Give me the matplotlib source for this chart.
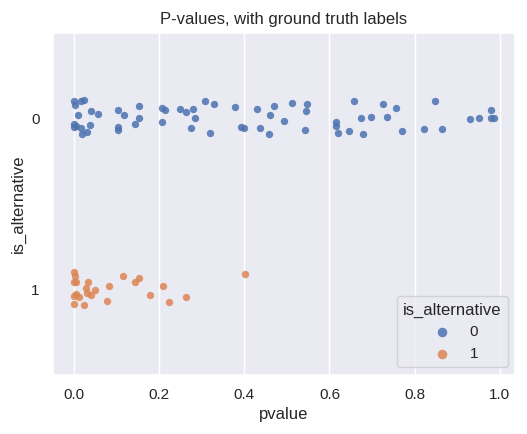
import numpy as np
import matplotlib
matplotlib.use("Agg")
import matplotlib.pyplot as plt
import seaborn as sns

# p-values, with the vertical jitter each point got
p_null = [0.001, 0.002, 0.016, 0.024, 0.041, 0.057, 0.010, 0.000, 0.005, 0.016,
          0.038, 0.030, 0.020, 0.000, 0.105, 0.118, 0.154, 0.154, 0.144, 0.105,
          0.104, 0.207, 0.214, 0.207, 0.249, 0.263, 0.279, 0.285, 0.275, 0.309,
          0.329, 0.320, 0.379, 0.392, 0.400, 0.430, 0.437, 0.460, 0.470, 0.458,
          0.493, 0.512, 0.548, 0.544, 0.542, 0.657, 0.726, 0.756, 0.616, 0.615,
          0.620, 0.646, 0.675, 0.697, 0.734, 0.679, 0.770, 0.847, 0.821, 0.864,
          0.930, 0.951, 0.980, 0.979, 0.987]
jit_null = [-0.097, -0.077, -0.102, -0.106, -0.042, -0.025, -0.017, 0.035, 0.045, 0.058,
            0.042, 0.081, 0.092, 0.052, -0.045, -0.017, -0.068, 0.000, 0.036, 0.054,
            0.068, -0.056, -0.048, 0.023, -0.050, -0.036, -0.054, 0.002, 0.056, -0.100,
            -0.085, 0.088, -0.064, 0.052, 0.058, -0.050, 0.056, -0.019, -0.069, 0.091,
            0.019, -0.088, -0.085, -0.040, 0.068, -0.098, -0.083, -0.056, 0.021, 0.048,
            0.087, 0.075, 0.000, -0.008, -0.004, 0.094, 0.075, -0.102, 0.062, 0.065,
            0.004, -0.002, -0.048, 0.002, 0.002]

p_alt = [0.000, 0.002, 0.000, 0.006, 0.034, 0.028, 0.051, 0.083, 0.116, 0.144,
         0.152, 0.210, 0.178, 0.224, 0.264, 0.403, 0.000, 0.006, 0.013, 0.030,
         0.040, 0.000, 0.023, 0.079]
jit_alt = [-0.097, -0.077, -0.042, -0.042, -0.042, -0.006, 0.008, -0.017, -0.075, -0.040,
           -0.062, -0.019, 0.035, 0.073, 0.048, -0.087, 0.039, 0.027, 0.046, 0.023,
           0.035, 0.087, 0.091, 0.071]

labels = [0, 1]

sns.set_theme()
plt.rcParams["font.family"] = ["Liberation Sans", "DejaVu Sans"]
pal = sns.color_palette("deep")

fig, ax = plt.subplots(figsize=(5.27, 4.34), dpi=100)
groups = [(p_null, jit_null), (p_alt, jit_alt)]
for lab, (pv, jit), col in zip(labels, groups, pal):
    ax.scatter(pv, lab + np.array(jit), s=28, color=col, alpha=0.85,
               linewidths=0, label=str(lab))

ax.set_yticks(labels)
ax.set_yticklabels([str(l) for l in labels])
ax.set_ylim(1.5, -0.5)
ax.yaxis.grid(False)
ax.set_xlabel("pvalue")
ax.set_ylabel("is_alternative")
ax.set_title("P-values, with ground truth labels")
ax.legend(title="is_alternative", loc="lower right", markerscale=1.3)

fig.subplots_adjust(left=0.10, right=0.978, top=0.925, bottom=0.137)
fig.savefig("out.png", dpi=100)
